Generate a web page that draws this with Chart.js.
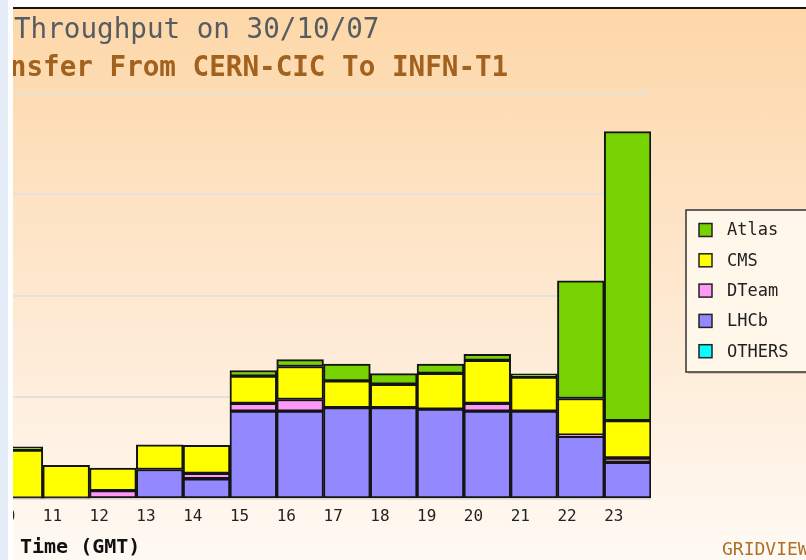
<!DOCTYPE html>
<html>
<head>
<meta charset="utf-8">
<script src="https://cdn.jsdelivr.net/npm/chart.js@4.4.1/dist/chart.umd.min.js"></script>
<style>
  html, body { margin: 0; padding: 0; background: #fff; width: 806px; height: 560px; overflow: hidden; }
  #strip { position: absolute; left: 0; top: 0; width: 8px; height: 560px; background: #e3ecf7; }
  #topline { position: absolute; left: 13px; top: 7px; width: 793px; height: 2px; background: #151515; }
  #frame {
    position: absolute; left: 13px; top: 9px; width: 793px; height: 551px; overflow: hidden;
    background: linear-gradient(#fdd7a8, #fee9d2 55%, #fffaf4);
  }
  #frame canvas { position: absolute; left: -17px; top: -9px; }
  .txt { position: absolute; white-space: pre; font-family: "DejaVu Sans Mono", monospace; }
  #t1 { left: 1px; top: 6px; font-size: 27.6px; line-height: 27px; color: #575c61; }
  #t2 { left: -53px; top: 44px; font-size: 27.6px; line-height: 27px; color: #a2611d; font-weight: bold; }
  #xt { left: 7px; top: 527px; font-size: 20px; line-height: 20px; color: #111; font-weight: bold; }
  #gv { left: 709px; top: 531px; font-size: 18px; line-height: 18px; color: #b0702a; }
</style>
</head>
<body>
<div id="strip"></div>
<div id="topline"></div>
<div id="frame">
  <canvas id="c" width="810" height="560"></canvas>
  <div class="txt" id="t1">Throughput on 30/10/07</div>
  <div class="txt" id="t2">Transfer From CERN-CIC To INFN-T1</div>
  <div class="txt" id="xt">Time (GMT)</div>
  <div class="txt" id="gv">GRIDVIEW</div>
</div>
<script>
// hours shown (GMT)
const hours = ['10', '11', '12', '13', '14', '15', '16', '17', '18', '19', '20', '21', '22', '23'];

// throughput per VO (grid step = 100)
const lhcb   = [0.5, 0.5, 0, 28.9, 19.8, 86.4, 86.4, 89.9, 89.9, 88.4, 86.4, 86.4, 61.7, 36];
const dteam  = [0, 0, 8, 0, 5.3, 7.6, 11.5, 0, 0, 0, 7.6, 0, 1, 4.2];
const cms    = [47.5, 32.5, 22.3, 24.2, 27.6, 27, 32.5, 26.3, 23, 35.3, 42.5, 33.6, 36.2, 36.8];
const atlas  = [3.3, 0, 0, 0, 0, 5.5, 6.8, 16.5, 10.5, 9.2, 5.9, 3.3, 116, 285];
const others = [0, 0, 0, 0, 0, 0, 0, 0, 0, 0, 0, 0, 0, 0];

const yTicks = [0, 100, 200, 300, 400];
const legendOrder = ['Atlas', 'CMS', 'DTeam', 'LHCb', 'OTHERS'];

const colors = {
  Atlas: '#76d200',
  CMS: '#ffff00',
  DTeam: '#ff99f8',
  LHCb: '#9488ff',
  OTHERS: '#00ffff'
};

function ds(label, data) {
  return {
    label: label,
    data: data,
    backgroundColor: colors[label],
    borderColor: '#141414',
    borderWidth: 2,
    borderSkipped: false,
    barPercentage: 1,
    categoryPercentage: 1
  };
}

// legend in a framed box, right of the plot
const boxLegend = {
  id: 'boxLegend',
  afterDraw(chart) {
    const ctx = chart.ctx;
    const a = chart.chartArea;
    const x0 = a.right + 35, y0 = 210, h = 162;
    ctx.save();
    ctx.fillStyle = 'rgba(120,100,80,0.25)';
    ctx.fillRect(x0 + 2, y0 + 2, 140, h);
    ctx.fillStyle = '#fff7e9';
    ctx.fillRect(x0, y0, 140, h);
    ctx.strokeStyle = '#333';
    ctx.lineWidth = 1.5;
    ctx.strokeRect(x0, y0, 140, h);
    ctx.font = '17px "DejaVu Sans Mono", monospace';
    ctx.textBaseline = 'middle';
    legendOrder.forEach((name, i) => {
      const cy = y0 + 20 + i * 30.3;
      ctx.fillStyle = colors[name];
      ctx.fillRect(x0 + 13, cy - 6.5, 13, 13);
      ctx.lineWidth = 1.5;
      ctx.strokeStyle = '#222';
      ctx.strokeRect(x0 + 13, cy - 6.5, 13, 13);
      ctx.fillStyle = '#222';
      ctx.fillText(name, x0 + 41, cy + 1);
    });
    ctx.restore();
  }
};

new Chart(document.getElementById('c'), {
  type: 'bar',
  data: {
    labels: hours,
    datasets: [
      ds('LHCb', lhcb),
      ds('DTeam', dteam),
      ds('CMS', cms),
      ds('Atlas', atlas),
      ds('OTHERS', others)
    ]
  },
  options: {
    responsive: false,
    animation: false,
    layout: { padding: { top: 93, bottom: 26, left: 0, right: 155 } },
    plugins: {
      legend: { display: false },
      title: { display: false },
      tooltip: { enabled: false }
    },
    scales: {
      x: {
        stacked: true,
        grid: { display: false, drawTicks: false },
        border: { display: false },
        ticks: {
          color: '#222',
          font: { family: 'DejaVu Sans Mono', size: 16 },
          padding: 8,
          align: 'start',
          autoSkip: false,
          maxRotation: 0,
          labelOffset: (c) => -c.scale.width / hours.length / 2
        }
      },
      y: {
        stacked: true,
        min: yTicks[0],
        max: yTicks[yTicks.length - 1],
        afterBuildTicks: (s) => { s.ticks = yTicks.map(v => ({ value: v })); },
        grid: { color: '#e6e0da', lineWidth: 2, drawTicks: false },
        border: { display: false },
        ticks: { display: false }
      }
    }
  },
  plugins: [boxLegend]
});
</script>
</body>
</html>
